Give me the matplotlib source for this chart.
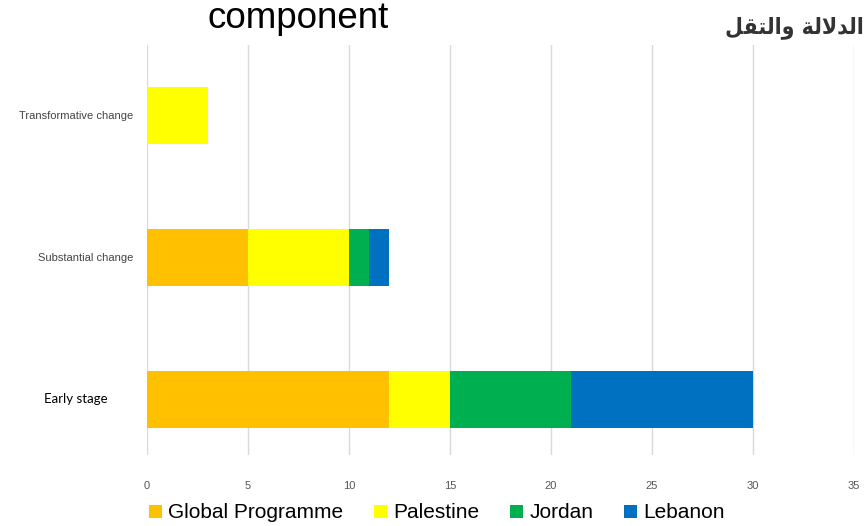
import matplotlib.pyplot as plt

# categories bottom -> top
stages = ['Early stage', 'Substantial change', 'Transformative change']
global_programme = [12, 5, 0]
palestine = [3, 5, 3]
jordan = [6, 1, 0]
lebanon = [9, 1, 0]

series = ['Global Programme', 'Palestine', 'Jordan', 'Lebanon']
colors = ['#FFC000', '#FFFF00', '#00B050', '#0070C0']

plt.rcParams['font.family'] = ['Liberation Sans', 'DejaVu Sans']

fig = plt.figure(figsize=(8.68, 5.26), dpi=100)
ax = fig.add_axes([0.1694, 0.135, 0.8145, 0.7794])

# stacked horizontal bars
left = [0] * len(stages)
for name, vals, col in zip(series, [global_programme, palestine, jordan, lebanon], colors):
    ax.barh(range(len(stages)), vals, left=left, height=0.40, color=col,
            label=name, zorder=3)
    left = [l + v for l, v in zip(left, vals)]

ax.set_xlim(0, 35)
ax.set_ylim(-0.391, 2.496)
ax.set_xticks(range(0, 36, 5))
ax.tick_params(axis='x', length=0, pad=19, labelsize=8, labelcolor='#555555')
ax.grid(axis='x', color='#d9d9d9', linewidth=1, zorder=0)
for s in ax.spines.values():
    s.set_visible(False)

# y labels: first one drawn separately (different style in the original)
ax.set_yticks(range(len(stages)))
ax.set_yticklabels([''] + stages[1:])
ax.tick_params(axis='y', length=0, pad=10, labelsize=8, labelcolor='#444444')
ax.text(-3.55, 0, stages[0], ha='center', va='center', fontsize=9.5,
        color='black', family=['Lato', 'DejaVu Sans'])

# legend
ax.legend(loc='center', bbox_to_anchor=(0.41, -0.1415), ncol=4, frameon=False,
          fontsize=15, handlelength=0.6, handleheight=0.6, handletextpad=0.3,
          columnspacing=1.5, borderaxespad=0)

# titles
fig.text(0.343, 0.947, 'component', ha='center', va='baseline', fontsize=26.5)
arabic = '\uFE8D\uFEDF\uFEAA\uFEFB\uFEDF\uFE94 \uFEED\uFE8D\uFEDF\uFE98\uFED8\uFEDE'
fig.text(0.995, 0.937, arabic[::-1], ha='right', va='baseline', fontsize=16.5,
         fontweight='bold', fontstretch='condensed', color='#333333',
         family=['DejaVu Sans'])

fig.savefig('out.png', dpi=100)
